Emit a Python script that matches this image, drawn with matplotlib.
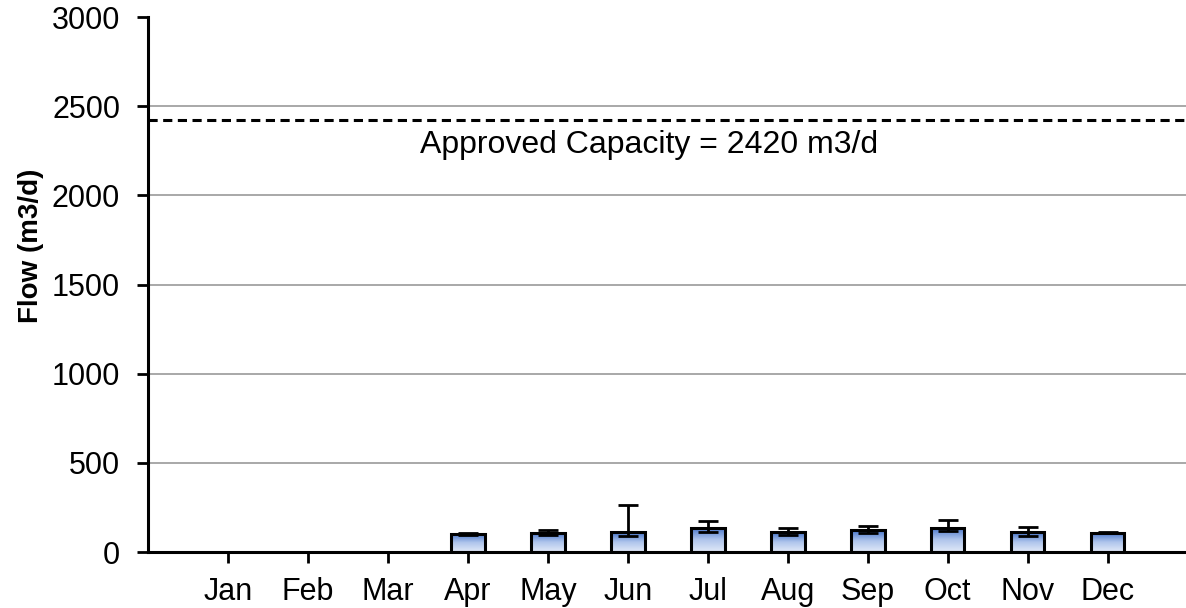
import matplotlib
matplotlib.use("Agg")
import matplotlib.pyplot as plt
import numpy as np

plt.rcParams['font.family'] = ['Liberation Sans', 'DejaVu Sans']

months = ["Jan", "Feb", "Mar", "Apr", "May", "Jun", "Jul", "Aug", "Sep", "Oct", "Nov", "Dec"]
flow = [0, 0, 0, 101, 108, 112, 136, 110, 122, 136, 112, 108]
err_low = [0, 0, 0, 3, 13, 21, 26, 15, 14, 17, 22, 4]
err_high = [0, 0, 0, 3, 15, 150, 38, 25, 24, 42, 30, 4]
capacity = 2420
yticks = [0, 500, 1000, 1500, 2000, 2500, 3000]

fig = plt.figure(figsize=(11.86, 6.08), dpi=100)
ax = fig.add_axes([0.1248, 0.0921, 0.8752, 0.8799])

x = np.arange(len(months))
has = [i for i, v in enumerate(flow) if v > 0]
xs = x[has]
vals = [flow[i] for i in has]

bars = ax.bar(xs, vals, width=0.42, color='none', edgecolor='black', linewidth=2.2, zorder=4)

# vertical gradient fill, dark blue on top fading to pale at the bottom
grad = np.linspace(0, 1, 256).reshape(-1, 1)
cmap = matplotlib.colors.LinearSegmentedColormap.from_list("g", ["#E2EAF8", "#AFC5EC", "#4472C8"])
for b in bars:
    bx, by = b.get_x(), b.get_y()
    w, h = b.get_width(), b.get_height()
    im = ax.imshow(grad, cmap=cmap, aspect='auto', origin='lower',
                   extent=[bx, bx + w, by, by + h], zorder=3)
    im.set_clip_path(b)

ax.errorbar(xs, vals, yerr=[[err_low[i] for i in has], [err_high[i] for i in has]],
            fmt='none', ecolor='black', elinewidth=2, capsize=7, capthick=2, zorder=5)

ax.axhline(capacity, color='black', linestyle=(0, (3, 1.8)), linewidth=2.2, zorder=5)
ax.text(5.27, 2237, "Approved Capacity = %d m3/d" % capacity, ha='center', va='baseline', fontsize=23)

ax.set_xlim(-1, 11.98)
ax.set_ylim(0, 3000)
ax.set_yticks(yticks)
ax.set_xticks(x)
ax.set_xticklabels(months)
ax.tick_params(axis='both', labelsize=22, width=2, length=8, direction='out')
ax.tick_params(axis='x', pad=10)
ax.tick_params(axis='y', pad=12)

for v in yticks[1:-1]:
    ax.axhline(v, color='#999999', linewidth=1.2, zorder=1)

for s in ['top', 'right']:
    ax.spines[s].set_visible(False)
for s in ['left', 'bottom']:
    ax.spines[s].set_linewidth(2.2)
    ax.spines[s].set_zorder(6)

ax.set_ylabel("Flow (m3/d)", fontsize=20, fontweight='bold')
ax.yaxis.set_label_coords(-0.100, 0.572)

fig.savefig("out.png", dpi=100)
